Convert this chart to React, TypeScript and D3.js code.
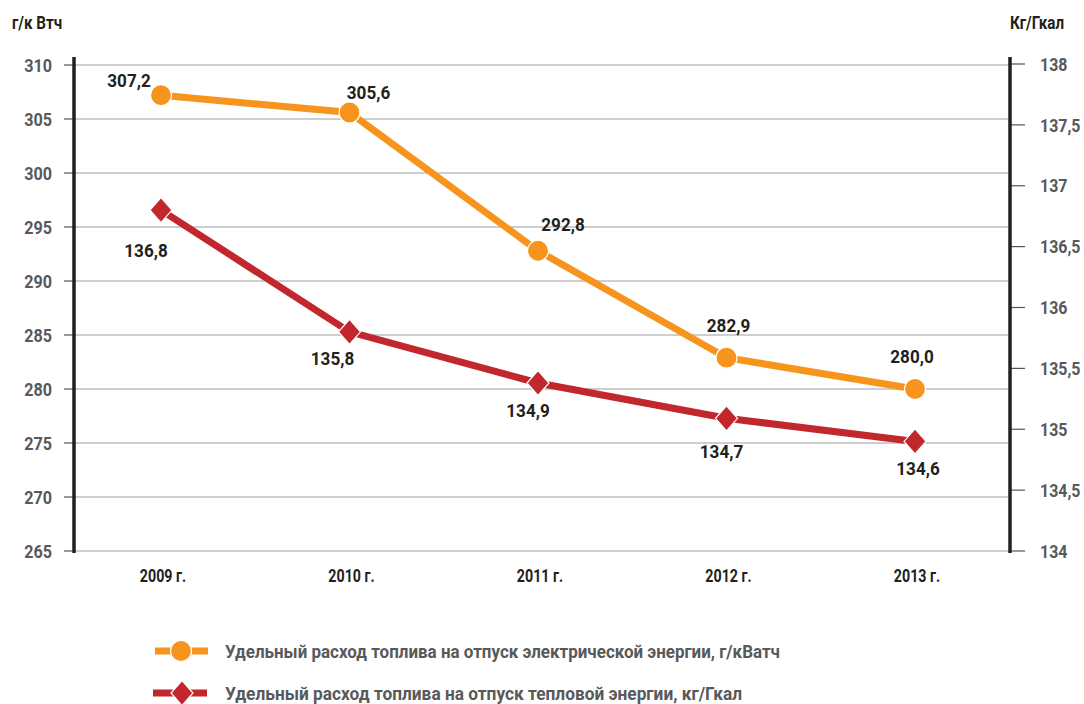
import React from 'react';
import * as d3 from 'd3';

// Data
const years = ['2009 г.', '2010 г.', '2011 г.', '2012 г.', '2013 г.'];
const electricValues = [307.2, 305.6, 292.8, 282.9, 280.0];
const electricLabels = ['307,2', '305,6', '292,8', '282,9', '280,0'];
// heat series: plotted positions as drawn, labels as printed
const heatValues = [136.8, 135.8, 135.38, 135.09, 134.9];
const heatLabels = ['136,8', '135,8', '134,9', '134,7', '134,6'];
const leftTicks = [265, 270, 275, 280, 285, 290, 295, 300, 305, 310];
const rightTicks = [134, 134.5, 135, 135.5, 136, 136.5, 137, 137.5, 138];
const legendItems = [
  'Удельный расход топлива на отпуск электрической энергии, г/кВатч',
  'Удельный расход топлива на отпуск тепловой энергии, кг/Гкал',
];

// label placement relative to marker
const electricOffsets = [[-32, -15], [19, -20], [25, -26], [2, -32], [-3, -33]];
const heatOffsets = [[-15, 40], [-17, 26], [-10, 27], [-5, 33], [3, 27]];

const ORANGE = '#F7941D';
const RED = '#C1272D';
const GREY = '#58595b';
const DARK = '#231f20';
const FONT = 'Roboto, "Noto Sans", sans-serif';

// condensed text: horizontally squeezed glyphs
const T = ({ x, y, sx = 0.9, anchor = 'start', size = 18, fill = DARK, children }: any) => (
  <text transform={`translate(${x},${y}) scale(${sx},1)`} dy="0.35em" textAnchor={anchor}
    fontSize={size} fill={fill}>{children}</text>
);

const App = () => {
  const width = 1084;
  const height = 704;
  const left = 74;
  const right = 1010;

  const x = d3.scalePoint<string>().domain(years).range([161, 915]);
  const yLeft = d3.scaleLinear().domain([265, 310]).range([551, 65]);
  const yRight = d3.scaleLinear().domain([134, 138]).range([551, 64]);

  const elecLine = d3.line<number>()
    .x((_, i) => x(years[i]) as number)
    .y(d => yLeft(d));
  const heatLine = d3.line<number>()
    .x((_, i) => x(years[i]) as number)
    .y(d => yRight(d));

  const diamond = (cx: number, cy: number, w: number, h: number) =>
    `M${cx},${cy - h} L${cx + w},${cy} L${cx},${cy + h} L${cx - w},${cy} Z`;

  return (
    <svg width={width} height={height} style={{ position: 'absolute', left: 0, top: 0, background: '#fff' }}
      fontFamily={FONT} fontWeight="bold">
      {/* units */}
      <T x={12} y={22} size={19} sx={0.8}>г/к Втч</T>
      <T x={1037} y={22} size={19} sx={0.8} anchor="middle">Кг/Гкал</T>

      {/* gridlines */}
      {leftTicks.map(t => (
        <line key={'g' + t} x1={left} x2={right} y1={yLeft(t)} y2={yLeft(t)} stroke="#9d9d9d" strokeWidth={1.2} />
      ))}

      {/* left axis */}
      {leftTicks.map(t => (
        <g key={'l' + t}>
          <line x1={64} x2={left} y1={yLeft(t)} y2={yLeft(t)} stroke="#555" strokeWidth={1.2} />
          <T x={52} y={yLeft(t)} anchor="end" size={19} sx={0.85} fill={GREY}>{t}</T>
        </g>
      ))}
      <line x1={left} x2={left} y1={57} y2={553} stroke={DARK} strokeWidth={3.5} />

      {/* right axis */}
      {rightTicks.map(t => (
        <g key={'r' + t}>
          <line x1={right} x2={1025} y1={yRight(t)} y2={yRight(t)} stroke="#555" strokeWidth={1.2} />
          <T x={1040} y={yRight(t)} size={19} sx={0.84} fill={GREY}>{String(t).replace('.', ',')}</T>
        </g>
      ))}
      <line x1={right} x2={right} y1={57} y2={553} stroke={DARK} strokeWidth={3.5} />

      {/* x labels */}
      {years.map(y => (
        <T key={y} x={(x(y) as number) + 2} y={575} size={19} sx={0.75} anchor="middle">{y}</T>
      ))}

      {/* series lines */}
      <path d={elecLine(electricValues) || ''} fill="none" stroke={ORANGE} strokeWidth={7} />
      <path d={heatLine(heatValues) || ''} fill="none" stroke={RED} strokeWidth={7} />

      {/* markers */}
      {electricValues.map((v, i) => (
        <circle key={'c' + i} cx={x(years[i])} cy={yLeft(v)} r={10.5} fill={ORANGE} stroke="#fff" strokeWidth={1.2} />
      ))}
      {heatValues.map((v, i) => (
        <path key={'d' + i} d={diamond(x(years[i]) as number, yRight(v), 11, 12.5)} fill={RED} stroke="#fff" strokeWidth={1.2} />
      ))}

      {/* data labels */}
      {electricValues.map((v, i) => (
        <T key={'el' + i} x={(x(years[i]) as number) + electricOffsets[i][0]} y={yLeft(v) + electricOffsets[i][1]}
          anchor="middle" size={19} sx={0.9}>{electricLabels[i]}</T>
      ))}
      {heatValues.map((v, i) => (
        <T key={'hl' + i} x={(x(years[i]) as number) + heatOffsets[i][0]} y={yRight(v) + heatOffsets[i][1]}
          anchor="middle" size={19} sx={0.9}>{heatLabels[i]}</T>
      ))}

      {/* legend */}
      <g transform="translate(0,651)">
        <line x1={155} x2={208} y1={0} y2={0} stroke={ORANGE} strokeWidth={7} />
        <circle cx={181} cy={0} r={10.5} fill={ORANGE} stroke="#fff" strokeWidth={1.2} />
        <text x={225} y={0} dy="0.35em" fontSize={19} fill={GREY} textLength={555} lengthAdjust="spacingAndGlyphs">{legendItems[0]}</text>
      </g>
      <g transform="translate(0,693)">
        <line x1={153} x2={207} y1={0} y2={0} stroke={RED} strokeWidth={7} />
        <path d={diamond(182, 0, 11, 12.5)} fill={RED} stroke="#fff" strokeWidth={1.2} />
        <text x={225} y={0} dy="0.35em" fontSize={19} fill={GREY} textLength={517} lengthAdjust="spacingAndGlyphs">{legendItems[1]}</text>
      </g>
    </svg>
  );
};

export default App;
